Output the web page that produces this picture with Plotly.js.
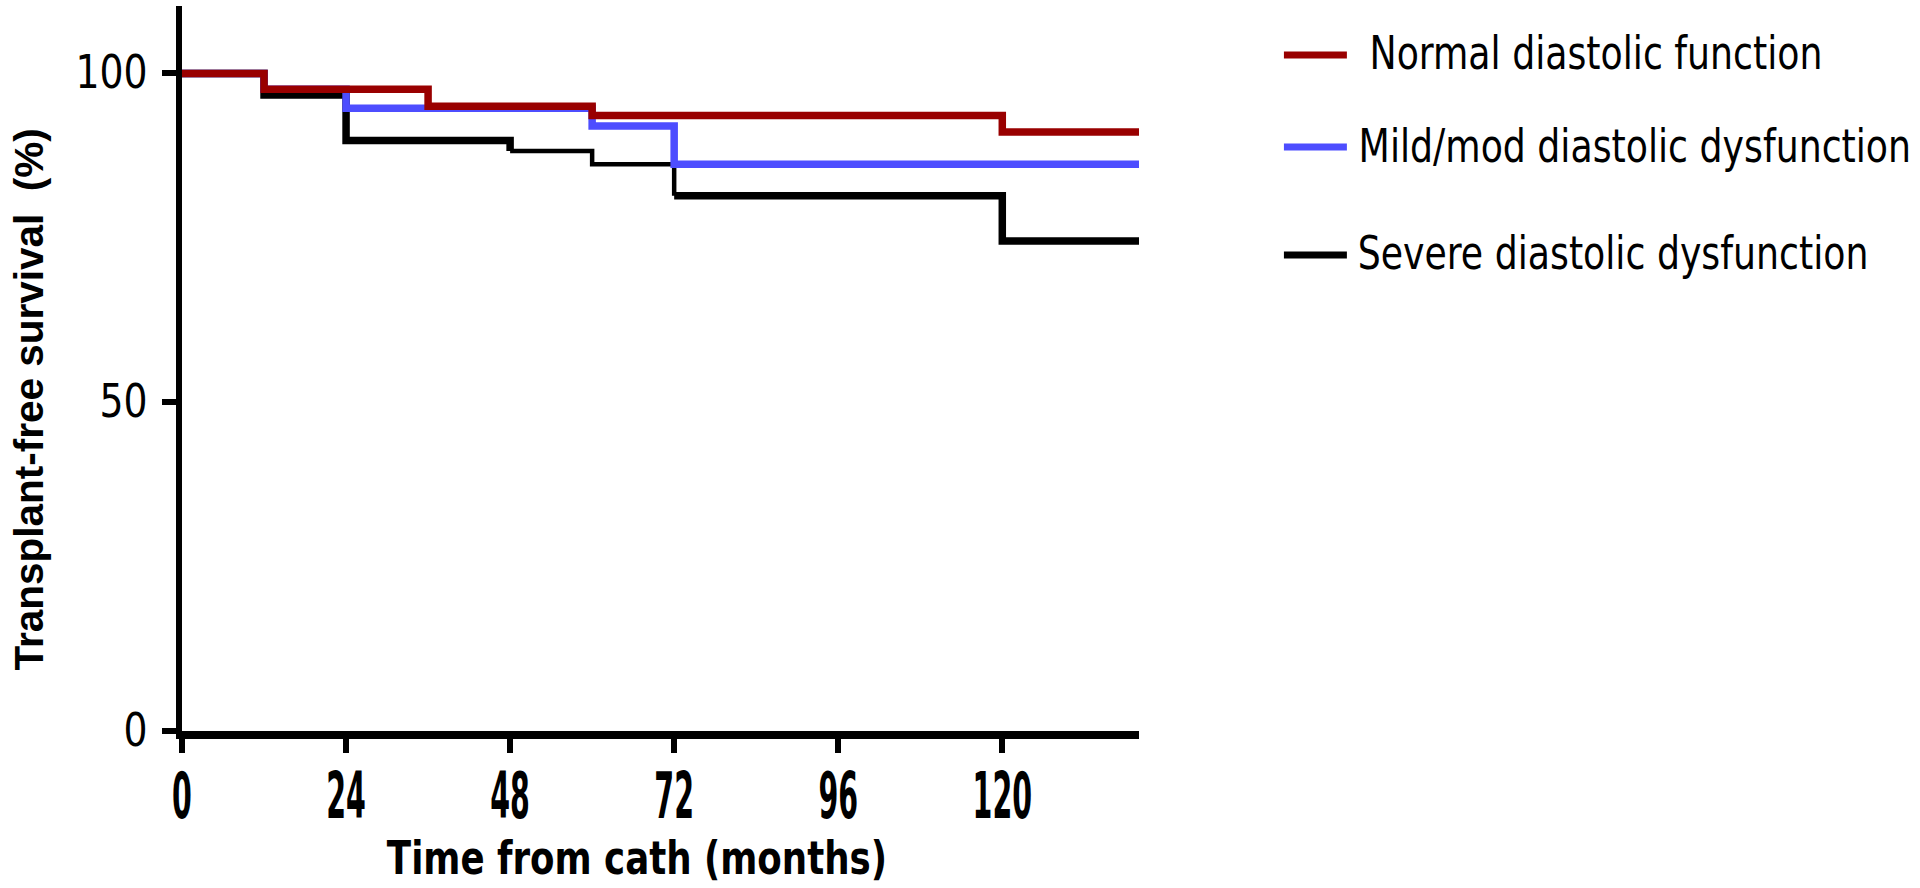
<!DOCTYPE html>
<html>
<head>
<meta charset="utf-8">
<script src="https://cdn.plot.ly/plotly-3.0.1.min.js"></script>
<style>
html, body { margin: 0; padding: 0; background: #ffffff; }
#chart { width: 1920px; height: 888px; }
</style>
</head>
<body>
<div id="chart"></div>
<script>
// ---- data ----
const seriesNames = ["Normal diastolic function", "Mild/mod diastolic dysfunction", "Severe diastolic dysfunction"];
const normalMonths = [0, 12, 36, 60, 120, 140];
const normalSurvival = [100, 97.6, 95.0, 93.6, 91.1, 91.1];
const mildMonths = [0, 12, 24, 60, 72, 140];
const mildSurvival = [100, 97.6, 94.7, 92.0, 86.2, 86.2];
const severeMonths = [0, 12, 24, 48, 60, 72, 120, 140];
const severeSurvival = [100, 96.7, 89.8, 88.2, 86.2, 81.4, 74.5, 74.5];
const xTicks = [0, 24, 48, 72, 96, 120];
const yTicks = [0, 50, 100];
const xTitle = "Time from cath (months)";
const yTitle = "Transplant-free survival&nbsp; (%)";

// ---- styles ----
const colors = ["#990000", "#4d4dff", "#000000"];
const narrow = "'DejaVu Sans Condensed', 'Liberation Sans Narrow', 'Liberation Sans', Arial, sans-serif";
const sans = "'Liberation Sans', Arial, sans-serif";

function step(x, y, color, width) {
  return { x: x, y: y, type: "scatter", mode: "lines", line: { shape: "hv", color: color, width: width },
           showlegend: false, hoverinfo: "skip" };
}

const traces = [
  step(severeMonths.slice(0, 4), severeSurvival.slice(0, 4), colors[2], 7.5),
  step(severeMonths.slice(3, 6), severeSurvival.slice(3, 6), colors[2], 4.5),
  step(severeMonths.slice(5), severeSurvival.slice(5), colors[2], 7.5),
  step(mildMonths, mildSurvival, colors[1], 7.5),
  step(normalMonths, normalSurvival, colors[0], 7.5)
];

// plot area geometry (pixels)
const L = 181.5, R = 1139, T = 6, B = 731;
const W = R - L, H = B - T;
const px = v => (v - L) / W;
const py = v => (B - v) / H;

const legendY = [55, 147, 255];
const legendTextX = [1358, 1345, 1345];
const annotations = [
  { text: yTitle, xref: "paper", yref: "paper", x: px(28), y: py(400), xanchor: "center", yanchor: "middle",
    textangle: -90, showarrow: false, font: { family: sans, size: 40.5, color: "#000", weight: "bold" } },
  { text: xTitle, xref: "paper", yref: "paper", x: px(637), y: py(858), xanchor: "center", yanchor: "middle",
    showarrow: false, font: { family: narrow, size: 44, color: "#000", weight: "bold" } }
];
const shapes = [];
for (let i = 0; i < seriesNames.length; i++) {
  annotations.push({ text: seriesNames[i], xref: "paper", yref: "paper", x: px(legendTextX[i]), y: py(legendY[i]),
    xanchor: "left", yanchor: "middle", showarrow: false, font: { family: narrow, size: 42, color: "#000" } });
  shapes.push({ type: "line", xref: "paper", yref: "paper", x0: px(1284), x1: px(1347), y0: py(legendY[i]), y1: py(legendY[i]),
    line: { color: colors[i], width: 7 } });
}

const layout = {
  width: 1920, height: 888,
  margin: { l: L, r: 1920 - R, t: T, b: 888 - B, pad: 0 },
  paper_bgcolor: "#ffffff", plot_bgcolor: "#ffffff",
  showlegend: false,
  xaxis: {
    range: [0, 140], tickvals: xTicks, ticktext: xTicks.map(String),
    showline: true, linewidth: 8, linecolor: "#000", ticks: "outside", ticklen: 14, tickwidth: 6, tickcolor: "#000",
    showgrid: false, zeroline: false, ticklabelstandoff: 12,
    tickfont: { family: narrow, size: 44, color: "#000", weight: "bold" }
  },
  yaxis: {
    range: [0, 110.25], tickvals: yTicks, ticktext: yTicks.map(String),
    showline: true, linewidth: 6, linecolor: "#000", ticks: "outside", ticklen: 14, tickwidth: 6, tickcolor: "#000",
    showgrid: false, zeroline: false, ticklabelstandoff: 6,
    tickfont: { family: narrow, size: 42, color: "#000" }
  },
  annotations: annotations,
  shapes: shapes
};

// horizontal/vertical stretch of text glyphs, about each text's own anchor point
function stretch(selector, sx, sy) {
  document.querySelectorAll(selector).forEach(t => {
    if (t.dataset.origTransform === undefined) t.dataset.origTransform = t.getAttribute("transform") || "";
    const x = parseFloat(t.getAttribute("x")) || 0;
    const y = parseFloat(t.getAttribute("y")) || 0;
    t.setAttribute("transform", t.dataset.origTransform +
      " translate(" + x + "," + y + ") scale(" + sx + "," + sy + ") translate(" + (-x) + "," + (-y) + ")");
  });
}
function applyStretch() {
  stretch("#chart .xtick text", 0.72, 1.45);
  stretch("#chart .ytick text", 1.0, 1.12);
  const ann = document.querySelectorAll("#chart .annotation-text");
  ann.forEach((t, i) => { t.classList.add("ann-" + i); });
  stretch("#chart .ann-1", 0.9, 1.05);
  stretch("#chart .ann-2, #chart .ann-3, #chart .ann-4", 0.96, 1.1);
}

const gd = document.getElementById("chart");
Plotly.newPlot(gd, traces, layout, { displayModeBar: false, staticPlot: true }).then(() => {
  applyStretch();
  gd.on("plotly_afterplot", applyStretch);
});
</script>
</body>
</html>
